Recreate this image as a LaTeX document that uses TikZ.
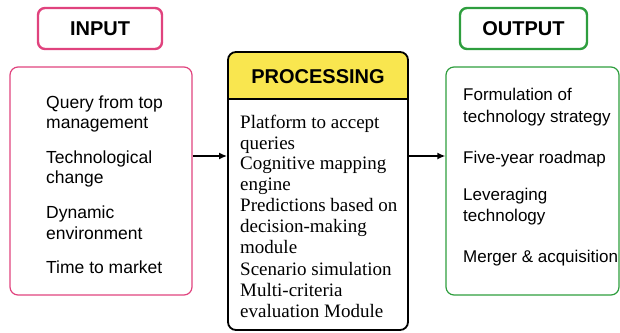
\documentclass[tikz,border=0pt]{standalone}
\usepackage{fontspec}
\setmainfont{Liberation Sans}
\newfontfamily\procserif{Liberation Serif}
\usetikzlibrary{arrows.meta}

\definecolor{inpink}{HTML}{E0437E}
\definecolor{outgreen}{HTML}{2E9E3E}
\definecolor{procyellow}{HTML}{F9E64F}

\tikzset{
  headbox/.style={draw, rounded corners=7pt, line width=2.4pt, minimum width=124pt,
    minimum height=41pt, inner sep=0pt, font=\fontsize{20}{22}\selectfont\bfseries},
  listbox/.style={draw, rounded corners=8pt, line width=1.2pt, inner sep=0pt},
  listtext/.style={anchor=base west, inner sep=0pt, font=\fontsize{17.5}{21}\selectfont},
  proctext/.style={anchor=base west, inner sep=0pt, font=\procserif\fontsize{19}{21}\selectfont},
  flow/.style={-{Latex[length=8pt,width=7pt]}, line width=1.6pt},
}

\begin{document}
\begin{tikzpicture}[x=1pt,y=-1pt]
    \useasboundingbox (0,0) rectangle (620,332);
    % Column titles
    \node[headbox, draw=inpink] (intitle) at (100,28.5) {INPUT};
    \node[headbox, draw=outgreen, minimum width=127pt] (outtitle) at (523.5,28.5) {OUTPUT};
    % Input list
    \node[listbox, draw=inpink, minimum width=182pt, minimum height=228pt] (inbox) at (101,181) {};
    \foreach \y/\t [count=\i] in {108/Query from top, 128/management, 163/Technological,
        183/change, 218/Dynamic, 239/environment, 273/Time to market}
        \node[listtext] (in\i) at (46,\y) {\t};
    % Processing block with yellow header
    \begin{scope}
        \clip (228,52) rectangle (408,99);
        \fill[procyellow, rounded corners=8pt] (228,52) rectangle (408,140);
    \end{scope}
    \node[listbox, line width=1.8pt, minimum width=180pt, minimum height=278pt] (proc) at (318,191) {};
    \coordinate (headline) at (0,99);
    \draw[line width=1.2pt] (proc.west |- headline) -- (proc.east |- headline);
    \node[anchor=base, inner sep=0pt, font=\fontsize{20}{22}\selectfont\bfseries] (proctitle) at (318,83) {PROCESSING};
    \foreach \y/\t [count=\i] in {128/Platform to accept, 149/queries, 169/Cognitive mapping,
        190/engine, 211/Predictions based on, 232/decision-making, 253/module,
        275/Scenario simulation, 296/Multi-criteria, 317/evaluation Module}
        \node[proctext] (pr\i) at (240,\y) {\t};
    % Output list
    \node[listbox, draw=outgreen, minimum width=173pt, minimum height=228pt] (outbox) at (532.5,181) {};
    \foreach \y/\t [count=\i] in {100/Formulation of, 122/technology strategy, 163/Five-year roadmap,
        200/Leveraging, 221/technology, 262/Merger \& acquisition}
        \node[listtext, font=\fontsize{17}{21}\selectfont] (out\i) at (463,\y) {\t};
    % Flow arrows
    \coordinate (flowrow) at (0,156);
    \draw[flow] (inbox.east |- flowrow) -- (proc.west |- flowrow);
    \draw[flow] (proc.east |- flowrow) -- (outbox.west |- flowrow);
\end{tikzpicture}
\end{document}
